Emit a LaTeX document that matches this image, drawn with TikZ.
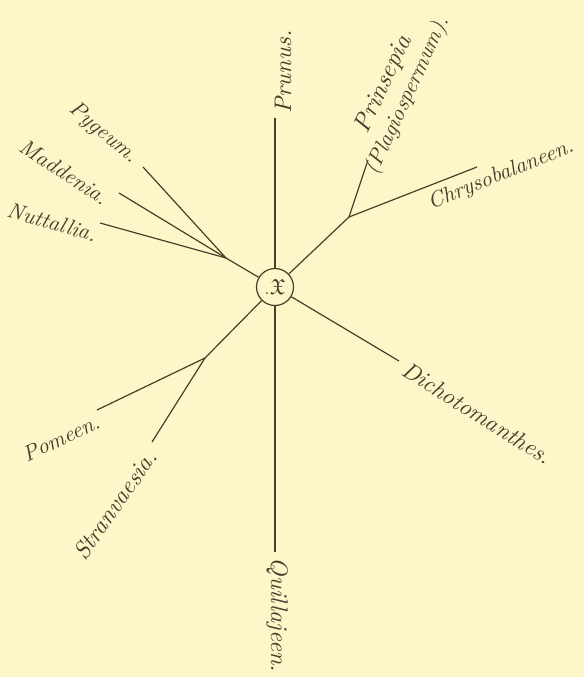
\documentclass[tikz,border=0pt]{standalone}
\usepackage{fontspec}
\usepackage{amssymb}
\newfontfamily\labfont{lmroman10-italic}[Extension=.otf]
\definecolor{bg}{RGB}{253,246,200}
\definecolor{ink}{RGB}{72,62,42}
\definecolor{txt}{RGB}{72,62,44}
\begin{document}
\begin{tikzpicture}[x=1pt,y=-1pt,
  branch/.style={draw=ink, line width=1.2pt},
  lab/.style={font=\labfont\fontsize{22}{26}\selectfont, text=txt, inner sep=0pt},
]
\useasboundingbox (0,0) rectangle (584,677);
\fill[bg] (0,0) rectangle (584,677);
\node[circle, draw=ink, line width=1.2pt, minimum size=37pt, inner sep=0pt,
      font=\fontsize{22}{22}\selectfont, text=ink] (root) at (275,287) {.$\mathfrak{X}$};
\coordinate (pt) at (275,118);
\coordinate (qb) at (275,552);
\coordinate (bur) at (349,217);
\coordinate (prin) at (368,160);
\coordinate (chry) at (477,167);
\coordinate (dich) at (399,361);
\coordinate (bul) at (226,258);
\coordinate (pyg) at (143,167);
\coordinate (madd) at (119,193);
\coordinate (nutt) at (100,223);
\coordinate (bll) at (205,358);
\coordinate (pom) at (97,410);
\coordinate (stra) at (152,442);
\draw[branch] (root) -- (pt);
\draw[branch] (root) -- (qb);
\draw[branch] (root) -- (bur);
\draw[branch] (bur) -- (prin);
\draw[branch] (bur) -- (chry);
\draw[branch] (root) -- (dich);
\draw[branch] (root) -- (bul);
\draw[branch] (bul) -- (pyg);
\draw[branch] (bul) -- (madd);
\draw[branch] (bul) -- (nutt);
\draw[branch] (root) -- (bll);
\draw[branch] (bll) -- (pom);
\draw[branch] (bll) -- (stra);
\node[lab, rotate=90, font=\labfont\fontsize{24}{26}\selectfont] (lprunus) at (283,72) {Prunus.};
\node[lab, rotate=65, align=center] (lprin) at (396,90) {{\fontsize{25}{26}\selectfont Prinsepia}\\(Plagiospermum).};
\node[lab, rotate=22] (lchry) at (501,175) {Chrysobalaneen.};
\node[lab, rotate=-32, font=\labfont\fontsize{23.5}{26}\selectfont] (ldich) at (477,413) {Dichotomanthes.};
\node[lab, rotate=-90, font=\labfont\fontsize{24}{26}\selectfont] (lquil) at (277,615) {Quillajeen.};
\node[lab, rotate=55, font=\labfont\fontsize{24}{26}\selectfont] (lstra) at (115,505) {Stranvaesia.};
\node[lab, rotate=25] (lpom) at (61,438) {Pomeen.};
\node[lab, rotate=-16] (lnutt) at (52,222) {Nuttallia.};
\node[lab, rotate=-33] (lmadd) at (64,172) {Maddenia.};
\node[lab, rotate=-40] (lpyg) at (103,133) {Pygeum.};
\end{tikzpicture}
\end{document}
